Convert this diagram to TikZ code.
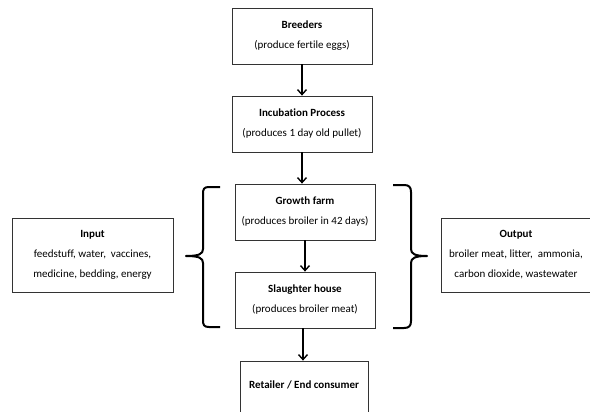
\documentclass[tikz,border=0pt]{standalone}
\usepackage{fontspec}
\setmainfont[Ligatures=NoCommon]{Carlito}
\usetikzlibrary{arrows.meta}
\begin{document}
\begin{tikzpicture}[x=1pt,y=-1pt,
  box/.style={draw=black!80, line width=0.8pt, inner sep=0pt, align=center,
    font=\fontsize{11}{20}\selectfont},
  flow/.style={line width=1.6pt, -{Straight Barb[length=5pt,width=9pt,line width=1.4pt]}},
  brace/.style={line width=2pt, line cap=butt, line join=round}]
\useasboundingbox (0,0) rectangle (590,412);
\clip (0,0) rectangle (590,412);
\node[box, minimum width=140, minimum height=56] (b) at (302,36)
  {\textbf{Breeders}\\(produce fertile eggs)};
\node[box, minimum width=140, minimum height=56] (i) at (302,124)
  {\textbf{Incubation Process}\\(produces 1 day old pullet)};
\node[box, minimum width=140, minimum height=56] (g) at (305,212)
  {\textbf{Growth farm}\\(produces broiler in 42 days)};
\node[box, minimum width=140, minimum height=56] (s) at (305,300)
  {\textbf{Slaughter house}\\(produces broiler meat)};
\node[box, minimum width=128, minimum height=70] (r) at (304,396) {};
\node[font=\fontsize{11}{20}\selectfont] (rt) at (304,385) {\textbf{Retailer / End consumer}};
\node[box, minimum width=161, minimum height=74] (in) at (92.5,255)
  {\textbf{Input}\\feedstuff, water,\ \ vaccines,\\medicine, bedding, energy};
\node[box, minimum width=150, minimum height=74] (out) at (516,255)
  {\textbf{Output}\\broiler meat, litter,\ \ ammonia,\\carbon dioxide, wastewater};
\draw[flow] (b.south) -- (i.north);
\draw[flow] (i.south) -- (i.south |- g.north);
\draw[flow] (g.south) -- (s.north);
\draw[flow] ([xshift=-2pt]s.south) -- ([xshift=-2pt]s.south |- r.north);
% left brace
\coordinate (lt) at (220,187);
\coordinate (lb) at (220,327);
\coordinate (ltip) at (186,256);
\draw[brace] (lt) -- (209,187) .. controls (204,187) and (203,189) .. (203,194)
  -- (203,249) .. controls (203,254) and (199,256) .. (ltip)
  .. controls (199,256) and (203,258) .. (203,263)
  -- (203,320) .. controls (203,325) and (204,327) .. (209,327) -- (lb);
% right brace
\coordinate (rt0) at (393,185);
\coordinate (rb) at (393,328);
\coordinate (rtip) at (427,256);
\draw[brace] (rt0) -- (404,185) .. controls (409,185) and (411,187) .. (411,192)
  -- (411,249) .. controls (411,254) and (415,256) .. (rtip)
  .. controls (415,256) and (411,258) .. (411,263)
  -- (411,321) .. controls (411,326) and (409,328) .. (404,328) -- (rb);
\end{tikzpicture}
\end{document}
